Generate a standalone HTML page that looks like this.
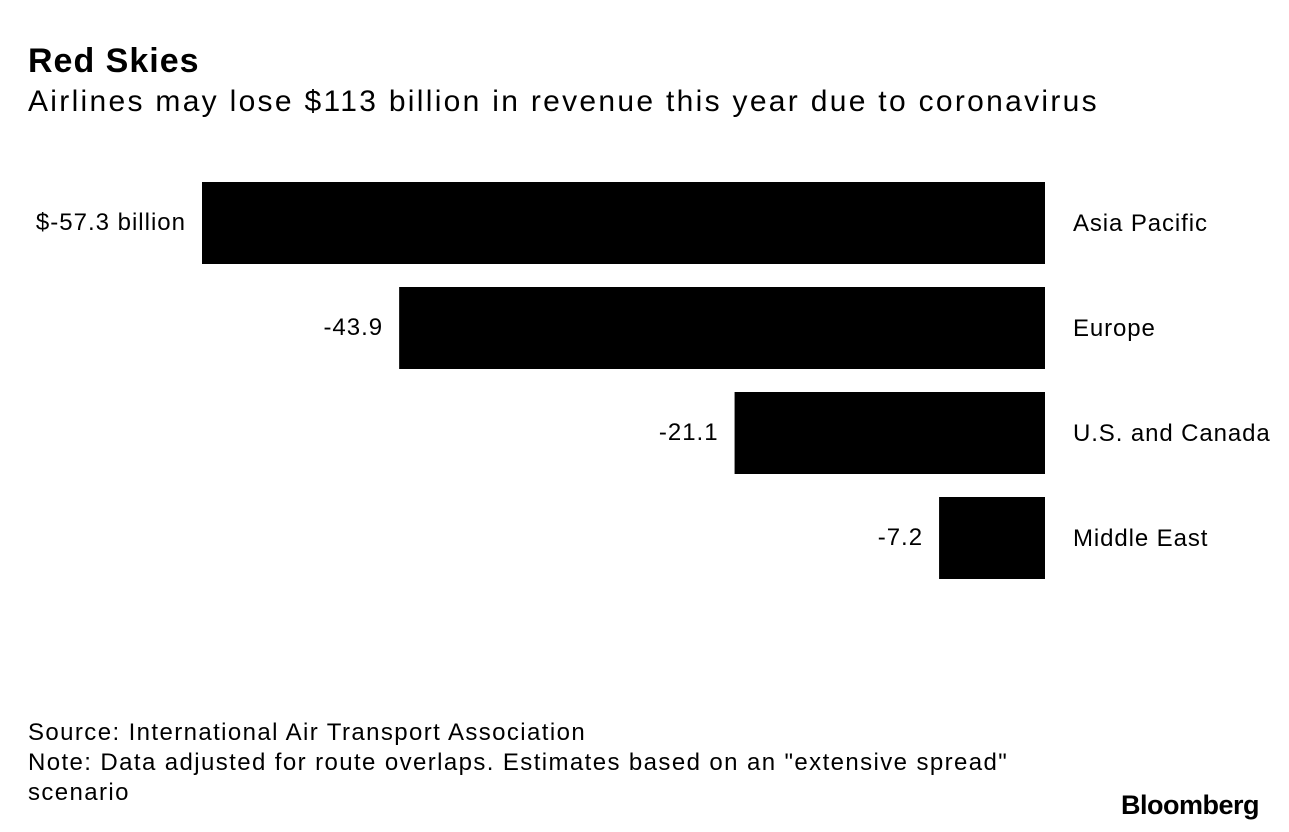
<!DOCTYPE html>
<html><head><meta charset="utf-8"><style>
body{margin:0;width:1289px;height:832px;background:#fff;font-family:"Liberation Sans",sans-serif;color:#000;overflow:hidden;position:relative}
.t{position:absolute;white-space:nowrap}
</style></head><body>
<div class="t" style="left:28px;top:42px;font-size:34px;font-weight:bold;letter-spacing:1px">Red Skies</div>
<div class="t" style="left:28px;top:85px;font-size:30px;letter-spacing:2.3px">Airlines may lose $113 billion in revenue this year due to coronavirus</div>
<svg id="chart" width="1289" height="832" style="position:absolute;left:0;top:0"></svg>
<div class="t" style="left:28px;top:718px;font-size:24px;line-height:30px;letter-spacing:1.4px">Source: International Air Transport Association<br>Note: Data adjusted for route overlaps. Estimates based on an "extensive spread"<br>scenario</div>
<div class="t" style="left:1121px;top:790px;font-size:27px;font-weight:bold;letter-spacing:-0.5px">Bloomberg</div>
<script>
const categories=["Asia Pacific","Europe","U.S. and Canada","Middle East"];
const values=[-57.3,-43.9,-21.1,-7.2];
const valueLabels=["$-57.3 billion","-43.9","-21.1","-7.2"];
const svg=document.getElementById('chart');
const NS='http://www.w3.org/2000/svg';
const x0=1045, scale=843/57.3;
const xs=v=>x0+v*scale;
const ys=i=>182+i*105;
const bh=82;
categories.forEach((c,i)=>{
  const r=document.createElementNS(NS,'rect');
  const x=xs(values[i]);
  r.setAttribute('x',Math.min(x,x0));r.setAttribute('y',ys(i));
  r.setAttribute('width',Math.abs(x0-x));r.setAttribute('height',bh);r.setAttribute('fill','#000');
  
  
  svg.appendChild(r);
  const v=document.createElementNS(NS,'text');
  v.setAttribute('x',x-16);v.setAttribute('y',ys(i)+48);v.setAttribute('text-anchor','end');
  v.setAttribute('font-size','24');v.setAttribute('font-family','Liberation Sans, sans-serif');
  v.setAttribute('letter-spacing','1');
  v.textContent=valueLabels[i];
  
  
  svg.appendChild(v);
  const l=document.createElementNS(NS,'text');
  l.setAttribute('x',x0+28);l.setAttribute('y',ys(i)+49);
  l.setAttribute('font-size','24');l.setAttribute('font-family','Liberation Sans, sans-serif');
  l.setAttribute('letter-spacing','0.9');
  l.textContent=c;
  
  
  svg.appendChild(l);
});
</script>
</body></html>
